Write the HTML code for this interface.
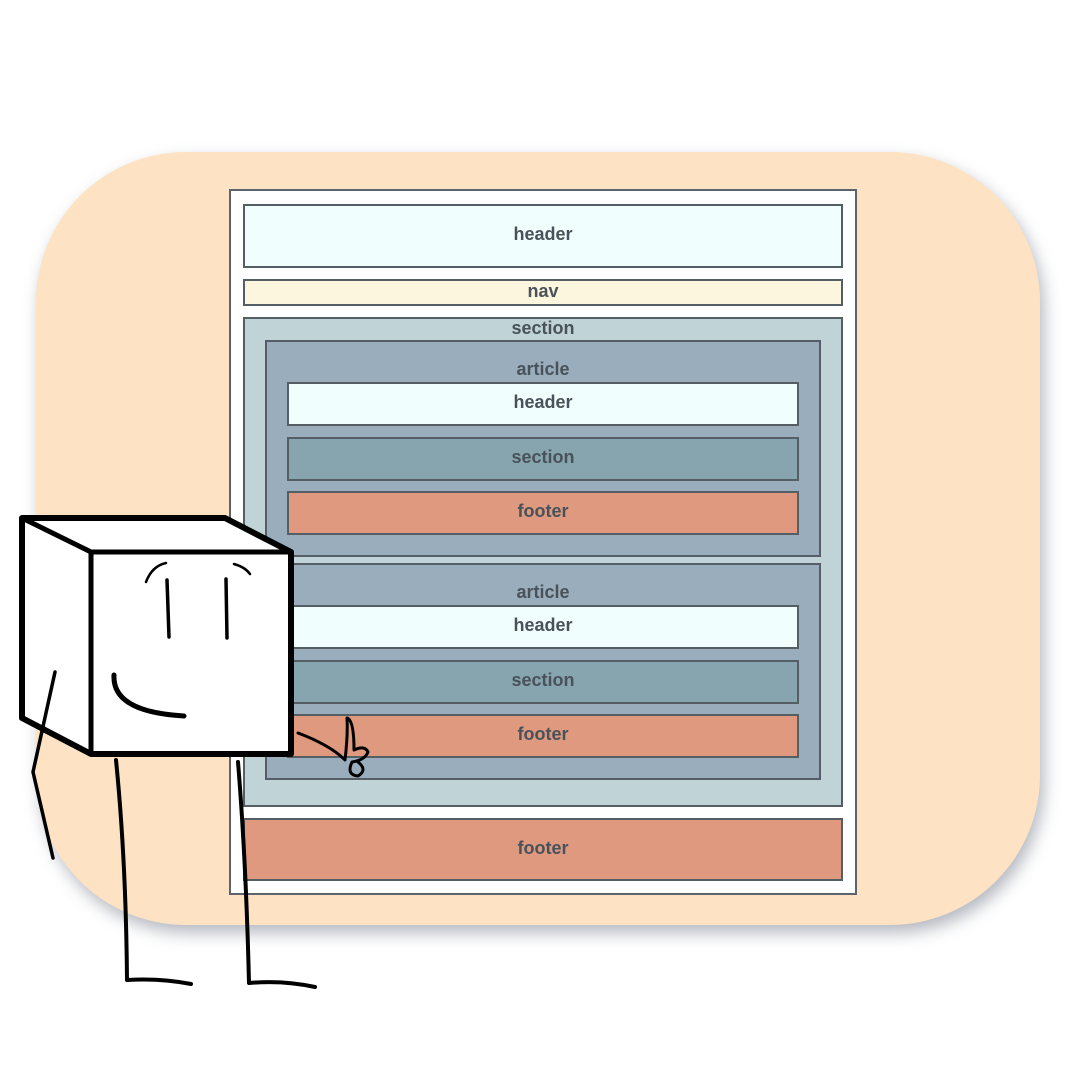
<!DOCTYPE html>
<html><head><meta charset="utf-8"><style>
*{margin:0;padding:0;box-sizing:border-box}
body{width:1080px;height:1080px;background:#fff;position:relative;overflow:hidden;font-family:"Liberation Sans",sans-serif}
.bg{position:absolute;left:36px;top:152px;width:1004px;height:773px;background:#fde3c3;border-radius:150px;box-shadow:4px 8px 16px rgba(90,100,115,.45)}
.b{position:absolute;border:2px solid #555d65;display:flex;align-items:center;justify-content:center;font-weight:bold;font-size:18px;color:#49525a;padding-bottom:3px}
.t{align-items:flex-start}
</style></head><body>
<div class="bg"></div>
<div class="b" style="left:229px;top:189px;width:628px;height:706px;background:#fff;border-width:2px;border-color:#5c636b"></div>
<div class="b" style="left:243px;top:204px;width:600px;height:64px;background:#f1fefe">header</div>
<div class="b" style="left:243px;top:279px;width:600px;height:27px;background:#fdf6de">nav</div>
<div class="b t" style="left:243px;top:317px;width:600px;height:490px;background:#c0d4d7;padding-top:0;line-height:18px">section</div>
<div class="b t" style="left:265px;top:340px;width:556px;height:217px;background:#9aadbd;padding-top:17px">article</div>
<div class="b" style="left:287px;top:382px;width:512px;height:44px;background:#f1fefe">header</div>
<div class="b" style="left:287px;top:437px;width:512px;height:44px;background:#87a5ae">section</div>
<div class="b" style="left:287px;top:491px;width:512px;height:44px;background:#de997e">footer</div>
<div class="b t" style="left:265px;top:563px;width:556px;height:217px;background:#9aadbd;padding-top:17px">article</div>
<div class="b" style="left:287px;top:605px;width:512px;height:44px;background:#f1fefe">header</div>
<div class="b" style="left:287px;top:660px;width:512px;height:44px;background:#87a5ae">section</div>
<div class="b" style="left:287px;top:714px;width:512px;height:44px;background:#de997e">footer</div>
<div class="b" style="left:243px;top:818px;width:600px;height:63px;background:#de997e">footer</div>
<svg width="1080" height="1080" style="position:absolute;left:0;top:0" fill="none" stroke="#000" stroke-linecap="round" stroke-linejoin="round">
<path d="M22 518 L225 518 L291 552 L291 754 L91 754 L22 718 Z" fill="#fff" stroke-width="6"/>
<path d="M22 518 L91 552 L291 552 M91 552 L91 754" stroke-width="5"/>
<path d="M146 582 Q152 566 166 563 M234 564 Q245 567 250 574" stroke-width="2.5"/>
<path d="M167 580 L169 637 M226 579 L227 638" stroke-width="3.5"/>
<path d="M114 675 Q112 712 184 716" stroke-width="5"/>
<path d="M55 672 L33 772 L53 858" stroke-width="3.5"/>
<path d="M116 760 Q126 860 127 980 Q160 978 191 984 M238 762 Q246 860 249 983 Q283 980 315 987" stroke-width="4"/>
<path d="M298 733 Q330 745 345 760 Q348 735 347 718 Q354 720 354 750 Q365 745 368 752 Q365 760 352 762 Q346 775 358 776 Q368 770 358 762" stroke-width="3"/>
</svg>
</body></html>
